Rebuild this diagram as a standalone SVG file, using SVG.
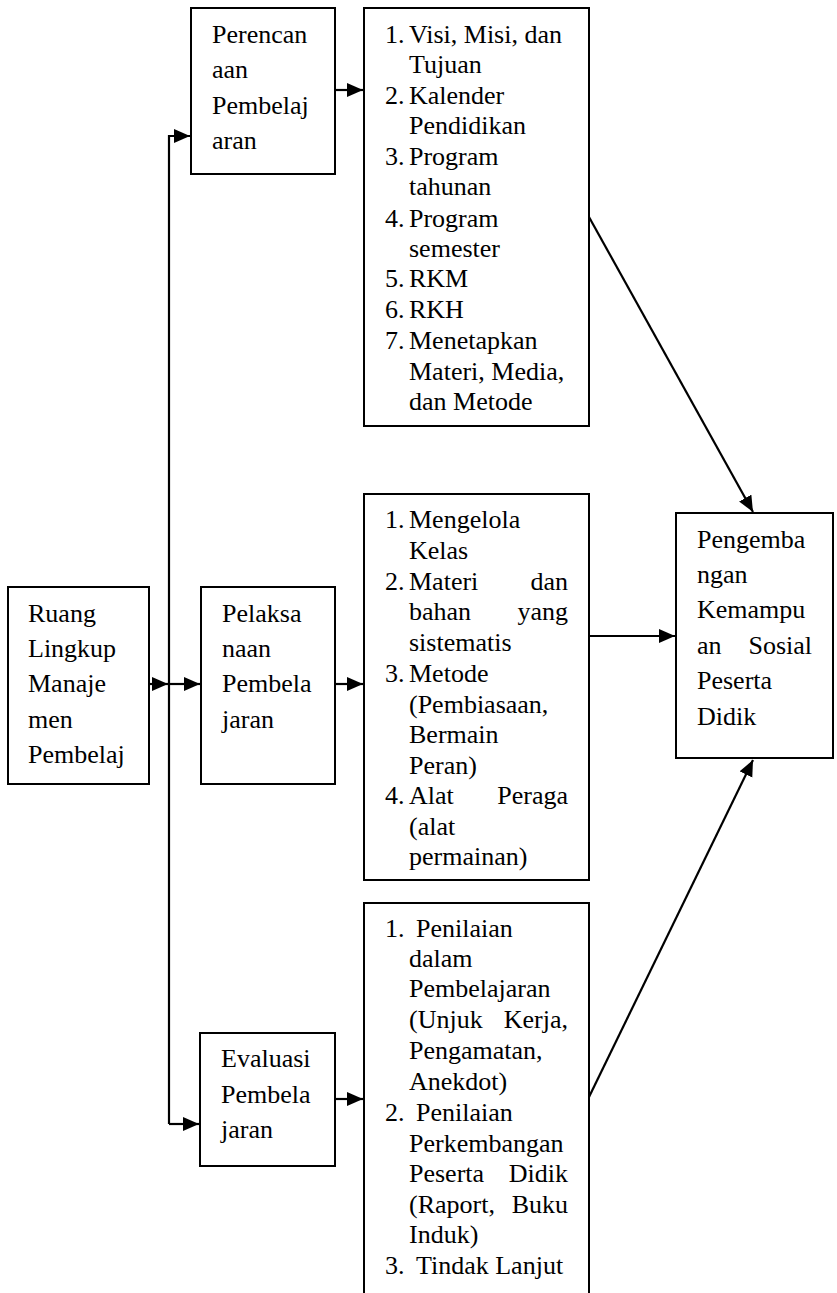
<svg xmlns="http://www.w3.org/2000/svg" width="837" height="1293" viewBox="0 0 837 1293">
<style>
.box{fill:#fff;stroke:#000;stroke-width:2}
.t{font-size:26px;fill:#000}
.e{text-anchor:end}
.c{fill:none;stroke:#000;stroke-width:2.2}
</style>
<defs>
<marker id="ah" markerUnits="userSpaceOnUse" markerWidth="17" markerHeight="15" refX="16" refY="7" orient="auto">
<path d="M0,0 L16,7 L0,14 z" fill="#000"/>
</marker>
</defs>
<rect width="837" height="1293" fill="#fff"/>

<g id="connectors">
<path class="c" d="M169,1124 V136 H190" marker-end="url(#ah)"/>
<path class="c" d="M169,1124 H199" marker-end="url(#ah)"/>
<path class="c" d="M149,684 H168" marker-end="url(#ah)"/>
<path class="c" d="M169,684 H200" marker-end="url(#ah)"/>
<path class="c" d="M335,90 H363" marker-end="url(#ah)"/>
<path class="c" d="M335,684 H363" marker-end="url(#ah)"/>
<path class="c" d="M335,1099 H363" marker-end="url(#ah)"/>
<path class="c" d="M589,217 L753,512" marker-end="url(#ah)"/>
<path class="c" d="M589,636 H675" marker-end="url(#ah)"/>
<path class="c" d="M589,1097 L753,760" marker-end="url(#ah)"/>
</g>

<g font-family="Liberation Serif, Times New Roman, serif">
<g id="ruang">
<rect class="box" x="8" y="587" width="141" height="197"/>
<text class="t" x="28" y="622">Ruang</text>
<text class="t" x="28" y="657">Lingkup</text>
<text class="t" x="28" y="692">Manaje</text>
<text class="t" x="28" y="728">men</text>
<text class="t" x="28" y="763">Pembelaj</text>
</g>

<g id="perencanaan">
<rect class="box" x="191" y="8" width="144" height="166"/>
<text class="t" x="212" y="43">Perencan</text>
<text class="t" x="212" y="78">aan</text>
<text class="t" x="212" y="114">Pembelaj</text>
<text class="t" x="212" y="149">aran</text>
</g>

<g id="pelaksanaan">
<rect class="box" x="201" y="587" width="134" height="197"/>
<text class="t" x="222" y="622">Pelaksa</text>
<text class="t" x="222" y="657">naan</text>
<text class="t" x="222" y="692">Pembela</text>
<text class="t" x="222" y="728">jaran</text>
</g>

<g id="evaluasi">
<rect class="box" x="200" y="1033" width="135" height="133"/>
<text class="t" x="221" y="1067">Evaluasi</text>
<text class="t" x="221" y="1103">Pembela</text>
<text class="t" x="221" y="1138">jaran</text>
</g>

<g id="list1">
<rect class="box" x="364" y="8" width="225" height="418"/>
<text class="t" x="385" y="43">1.</text><text class="t" x="409" y="43">Visi, Misi, dan</text>
<text class="t" x="409" y="73">Tujuan</text>
<text class="t" x="385" y="104">2.</text><text class="t" x="409" y="104">Kalender</text>
<text class="t" x="409" y="134">Pendidikan</text>
<text class="t" x="385" y="165">3.</text><text class="t" x="409" y="165">Program</text>
<text class="t" x="409" y="195">tahunan</text>
<text class="t" x="385" y="227">4.</text><text class="t" x="409" y="227">Program</text>
<text class="t" x="409" y="257">semester</text>
<text class="t" x="385" y="287">5.</text><text class="t" x="409" y="287">RKM</text>
<text class="t" x="385" y="318">6.</text><text class="t" x="409" y="318">RKH</text>
<text class="t" x="385" y="349">7.</text><text class="t" x="409" y="349">Menetapkan</text>
<text class="t" x="409" y="380">Materi, Media,</text>
<text class="t" x="409" y="410">dan Metode</text>
</g>

<g id="list2">
<rect class="box" x="364" y="494" width="225" height="386"/>
<text class="t" x="385" y="528">1.</text><text class="t" x="409" y="528">Mengelola</text>
<text class="t" x="409" y="559">Kelas</text>
<text class="t" x="385" y="590">2.</text><text class="t" x="409" y="590">Materi</text><text class="t e" x="568" y="590">dan</text>
<text class="t" x="409" y="620">bahan</text><text class="t e" x="568" y="620">yang</text>
<text class="t" x="409" y="651">sistematis</text>
<text class="t" x="385" y="682">3.</text><text class="t" x="409" y="682">Metode</text>
<text class="t" x="409" y="713">(Pembiasaan,</text>
<text class="t" x="409" y="743">Bermain</text>
<text class="t" x="409" y="774">Peran)</text>
<text class="t" x="385" y="804">4.</text><text class="t" x="409" y="804">Alat</text><text class="t e" x="568" y="804">Peraga</text>
<text class="t" x="409" y="835">(alat</text>
<text class="t" x="409" y="865">permainan)</text>
</g>

<g id="list3">
<rect class="box" x="364" y="903" width="225" height="400"/>
<text class="t" x="385" y="937">1.</text><text class="t" x="416" y="937">Penilaian</text>
<text class="t" x="409" y="967">dalam</text>
<text class="t" x="409" y="997">Pembelajaran</text>
<text class="t" x="409" y="1028">(Unjuk</text><text class="t e" x="568" y="1028">Kerja,</text>
<text class="t" x="409" y="1059">Pengamatan,</text>
<text class="t" x="409" y="1090">Anekdot)</text>
<text class="t" x="385" y="1121">2.</text><text class="t" x="416" y="1121">Penilaian</text>
<text class="t" x="409" y="1152">Perkembangan</text>
<text class="t" x="409" y="1182">Peserta</text><text class="t e" x="568" y="1182">Didik</text>
<text class="t" x="409" y="1213">(Raport,</text><text class="t e" x="568" y="1213">Buku</text>
<text class="t" x="409" y="1243">Induk)</text>
<text class="t" x="385" y="1274">3.</text><text class="t" x="416" y="1274">Tindak Lanjut</text>
</g>

<g id="pengembangan">
<rect class="box" x="676" y="513" width="157" height="245"/>
<text class="t" x="697" y="548">Pengemba</text>
<text class="t" x="697" y="583">ngan</text>
<text class="t" x="697" y="618">Kemampu</text>
<text class="t" x="697" y="654">an</text><text class="t e" x="812" y="654">Sosial</text>
<text class="t" x="697" y="689">Peserta</text>
<text class="t" x="697" y="725">Didik</text>
</g>
</g>
</svg>
